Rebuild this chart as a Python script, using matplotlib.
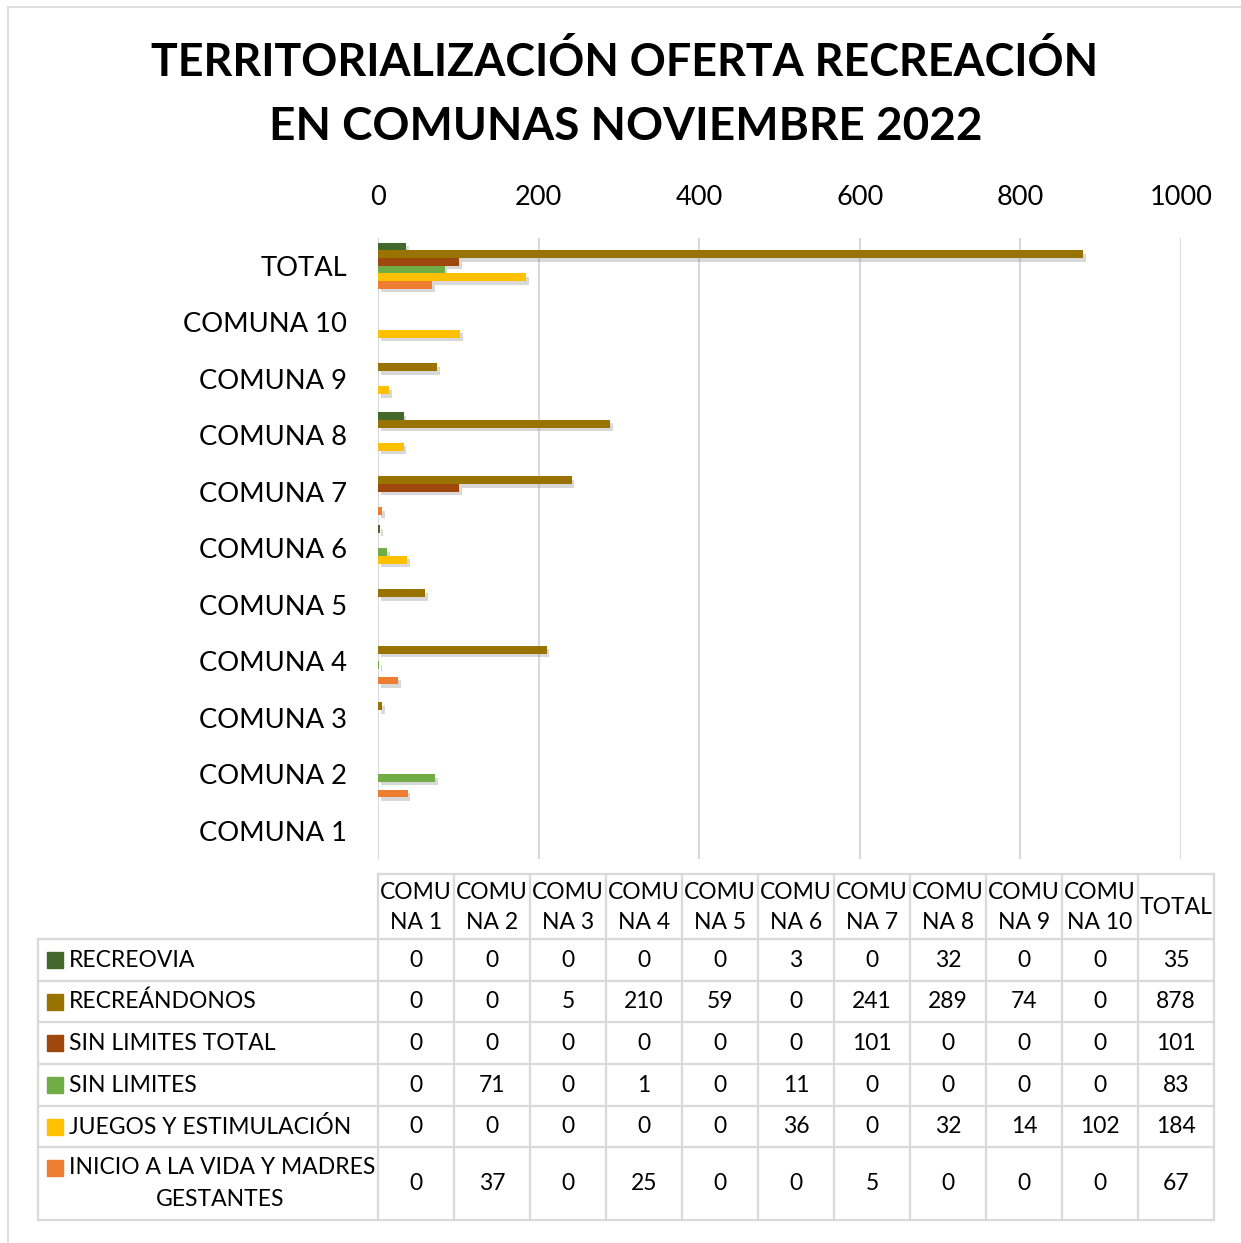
import numpy as np
import matplotlib
matplotlib.use("Agg")
import matplotlib.pyplot as plt
import matplotlib.patheffects as pe

plt.rcParams['font.family'] = ['Lato', 'DejaVu Sans']

# datos
COMUNAS = ["COMUNA 1", "COMUNA 2", "COMUNA 3", "COMUNA 4", "COMUNA 5",
           "COMUNA 6", "COMUNA 7", "COMUNA 8", "COMUNA 9", "COMUNA 10", "TOTAL"]
SERIES = ["RECREOVIA", "RECREÁNDONOS", "SIN LIMITES TOTAL", "SIN LIMITES",
          "JUEGOS Y ESTIMULACIÓN", "INICIO A LA VIDA Y MADRES GESTANTES"]
RECREOVIA = [0, 0, 0, 0, 0, 3, 0, 32, 0, 0, 35]
RECREANDONOS = [0, 0, 5, 210, 59, 0, 241, 289, 74, 0, 878]
SIN_LIMITES_TOTAL = [0, 0, 0, 0, 0, 0, 101, 0, 0, 0, 101]
SIN_LIMITES = [0, 71, 0, 1, 0, 11, 0, 0, 0, 0, 83]
JUEGOS = [0, 0, 0, 0, 0, 36, 0, 32, 14, 102, 184]
INICIO = [0, 37, 0, 25, 0, 0, 5, 0, 0, 0, 67]
COLORES = ["#43682B", "#997300", "#9E480E", "#70AD47", "#FFC000", "#ED7D31"]

valores = [RECREOVIA, RECREANDONOS, SIN_LIMITES_TOTAL, SIN_LIMITES, JUEGOS, INICIO]

W, H = 1241, 1243
fig = plt.figure(figsize=(W / 100, H / 100), dpi=100)

# fondo / borde del grafico
ov = fig.add_axes([0, 0, 1, 1])
ov.set_xlim(0, W)
ov.set_ylim(H, 0)
ov.axis('off')
gris = "#d9d9d9"
ov.plot([8, 8], [7, H], color=gris, lw=1.2)
ov.plot([8, W], [7, 7], color=gris, lw=1.2)

# titulo
ov.text(625, 62, "TERRITORIALIZACIÓN OFERTA RECREACIÓN", ha='center', va='center',
        fontsize=32.2, fontweight='bold')
ov.text(626, 127, "EN COMUNAS NOVIEMBRE 2022", ha='center', va='center',
        fontsize=33, fontweight='bold')

# grafico de barras
x0, x1 = 378, 1181
y_top, y_bot = 237.5, 859
ax = fig.add_axes([x0 / W, 1 - y_bot / H, (x1 - x0) / W, (y_bot - y_top) / H])
ax.set_xlim(0, 1000)
ax.set_ylim(-0.5, len(COMUNAS) - 0.5)
ypos = np.arange(len(COMUNAS))
alto = 0.136
sombra = [pe.SimplePatchShadow(offset=(2, -2.5), shadow_rgbFace='gray', alpha=0.3), pe.Normal()]
for k, (vals, col) in enumerate(zip(valores, COLORES)):
    bars = ax.barh(ypos + (2.5 - k) * alto, vals, height=alto, color=col, linewidth=0)
    for b in bars:
        if b.get_width() > 0:
            b.set_path_effects(sombra)

ax.set_xticks(np.arange(0, 1001, 200))
ax.xaxis.tick_top()
ax.tick_params(axis='x', length=0, pad=20, labelsize=19.5)
ax.set_yticks(ypos)
ax.set_yticklabels(COMUNAS)
ax.tick_params(axis='y', length=0, pad=22, labelsize=19.7)
ax.grid(axis='x', color=gris, lw=1.5)
ax.set_axisbelow(True)
for s in ax.spines.values():
    s.set_visible(False)

# tabla de datos
col_w = 76
bordes_x = [x0 + col_w * i for i in range(len(COMUNAS) + 1)]
bordes_y = [874, 939, 981, 1022, 1064, 1106, 1147, 1220]
lw = 1.6
ov.plot([bordes_x[0], bordes_x[-1]], [bordes_y[0], bordes_y[0]], color=gris, lw=lw)
for yy in bordes_y[1:]:
    ov.plot([38, bordes_x[-1]], [yy, yy], color=gris, lw=lw)
for xx in bordes_x:
    ov.plot([xx, xx], [bordes_y[0], bordes_y[-1]], color=gris, lw=lw)
ov.plot([38, 38], [bordes_y[1], bordes_y[-1]], color=gris, lw=lw)

fs = 16.5
yc_head = (bordes_y[0] + bordes_y[1]) / 2 + 1
for i, nombre in enumerate(COMUNAS):
    xc = bordes_x[i] + col_w / 2
    etiqueta = nombre if nombre == "TOTAL" else nombre[:4] + "\n" + nombre[4:]
    ov.text(xc, yc_head, etiqueta, ha='center', va='center', fontsize=fs, linespacing=1.5)

for r, (nombre, vals, col) in enumerate(zip(SERIES, valores, COLORES)):
    yc = (bordes_y[r + 1] + bordes_y[r + 2]) / 2
    if len(nombre) > 25:
        corte = nombre.rfind(" ")
        ov.add_patch(plt.Rectangle((47, yc - 24), 16, 16, color=col))
        ov.text(69, yc - 16, nombre[:corte], ha='left', va='center', fontsize=fs)
        ov.text(220, yc + 16, nombre[corte + 1:], ha='center', va='center', fontsize=fs)
    else:
        ov.add_patch(plt.Rectangle((47, yc - 8), 16, 16, color=col))
        ov.text(69, yc, nombre, ha='left', va='center', fontsize=fs)
    for i, v in enumerate(vals):
        ov.text(bordes_x[i] + col_w / 2, yc, str(v), ha='center', va='center', fontsize=fs)

fig.savefig("out.png", dpi=100)
